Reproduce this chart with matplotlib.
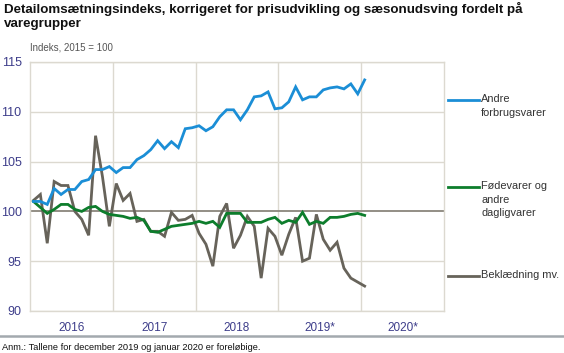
import matplotlib
matplotlib.use("Agg")
import matplotlib.pyplot as plt
import numpy as np

# Monthly values Jan 2016 - Jan 2020
andre = [101.0, 101.0, 100.7, 102.3, 101.7, 102.2, 102.2, 103.0, 103.2, 104.2,
         104.2, 104.5, 103.9, 104.4, 104.4, 105.2, 105.6, 106.2, 107.1, 106.3,
         107.0, 106.4, 108.3, 108.4, 108.6, 108.1, 108.5, 109.5, 110.2, 110.2,
         109.2, 110.2, 111.5, 111.6, 112.0, 110.3, 110.4, 111.0, 112.5, 111.2,
         111.5, 111.5, 112.2, 112.4, 112.5, 112.3, 112.8, 111.8, 113.2]
fodevarer = [101.0, 100.4, 99.8, 100.2, 100.7, 100.7, 100.2, 100.0, 100.4, 100.5,
             100.0, 99.7, 99.6, 99.5, 99.3, 99.4, 99.1, 98.0, 97.9, 98.2,
             98.5, 98.6, 98.7, 98.8, 99.0, 98.8, 99.0, 98.4, 99.8, 99.8,
             99.8, 98.9, 98.9, 98.9, 99.2, 99.4, 98.8, 99.1, 98.9, 99.9,
             98.7, 99.0, 98.8, 99.4, 99.4, 99.5, 99.7, 99.8, 99.6]
beklaedning = [101.1, 101.7, 96.8, 103.0, 102.6, 102.6, 100.0, 99.2, 97.6, 107.6,
               103.5, 98.5, 102.8, 101.1, 101.8, 99.0, 99.2, 98.0, 98.0, 97.5,
               99.9, 99.1, 99.2, 99.6, 97.8, 96.7, 94.5, 99.5, 100.8, 96.3,
               97.6, 99.5, 98.5, 93.3, 98.3, 97.5, 95.6, 97.7, 99.4, 95.0,
               95.3, 99.7, 97.2, 96.1, 96.9, 94.3, 93.3, 92.9, 92.5]
years = ["2016", "2017", "2018", "2019*", "2020*"]
yticks = [90, 95, 100, 105, 110, 115]
labels = ["Andre\nforbrugsvarer", "Fødevarer og\nandre\ndagligvarer", "Beklædning mv."]
colors = ["#1b8ed6", "#0d7d2c", "#67635a"]

W, H = 564, 353
fig = plt.figure(figsize=(W / 100, H / 100), dpi=100)
sans = ["Liberation Sans", "DejaVu Sans"]
ax = fig.add_axes([30 / W, (H - 311) / H, 414 / W, 249 / H])

x = np.arange(len(andre))
grid_c = "#dcd9d0"
for yv in yticks:
    if yv != 100:
        ax.axhline(yv, color=grid_c, lw=1.0, zorder=0)
for k in range(1, len(years)):
    ax.axvline(12 * k - 0.5, color=grid_c, lw=1.0, zorder=0)
ax.axhline(100, color="#8a867c", lw=1.3, zorder=1)

series = [andre, fodevarer, beklaedning]
for s, c in zip(series[::-1], colors[::-1]):
    ax.plot(x, s, color=c, lw=2.0, zorder=3, solid_joinstyle="miter")

ax.set_xlim(-0.5, 12 * len(years) - 0.5)
ax.set_ylim(90, 115)
ax.set_yticks(yticks)
ax.set_yticklabels([str(v) for v in yticks], family=sans, fontsize=9, color="#3d3d8a")
ax.set_xticks([12 * k + 5.5 for k in range(len(years))])
ax.set_xticklabels(years, family=sans, fontsize=8.5, color="#3d3d8a")
ax.tick_params(length=0, pad=6)
ax.tick_params(axis="x", pad=8)
for sp in ax.spines.values():
    sp.set_color(grid_c)
    sp.set_linewidth(1.0)

# Legend on right
leg_y = [100, 187, 276]
for lab, c, ly in zip(labels, colors, leg_y):
    fig.add_artist(plt.Line2D([448 / W, 479 / W], [1 - ly / H, 1 - ly / H], color=c, lw=2.0))
    fig.text(481 / W, 1 - (ly - 6) / H, lab, family=sans, fontsize=7.9, color="#333333",
             va="top", ha="left", linespacing=1.45)

fig.text(4 / W, 1 - 2 / H,
         "Detailomsætningsindeks, korrigeret for prisudvikling og sæsonudsving fordelt på\nvaregrupper",
         family=sans, fontweight="bold", fontsize=9.6,
         va="top", ha="left", linespacing=1.2, color="#111111")
fig.text(30 / W, 1 - 48 / H, "Indeks, 2015 = 100", family=sans, fontsize=7,
         color="#555555", va="center", ha="left")
fig.add_artist(plt.Line2D([0, 1], [1 - 336 / H, 1 - 336 / H], color="#a3a9ae", lw=1.8))
fig.text(2 / W, 1 - 348 / H, "Anm.: Tallene for december 2019 og januar 2020 er foreløbige.",
         family=sans, fontsize=6.7, color="#111111",
         va="center", ha="left")

fig.savefig("out.png", dpi=100)
